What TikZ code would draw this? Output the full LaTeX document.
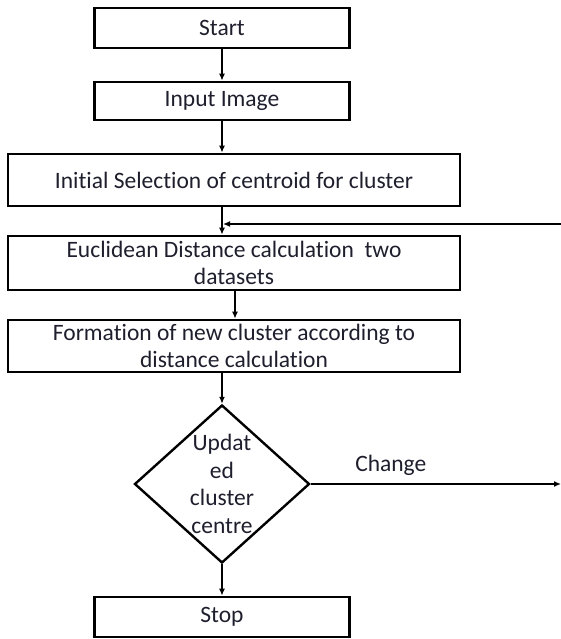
\documentclass[tikz,border=0pt]{standalone}
\usepackage{fontspec}
\setmainfont{Carlito}[Ligatures=NoCommon]
\usepackage{tikz}
\usetikzlibrary{arrows.meta,shapes.geometric,positioning,calc}
\definecolor{flowtext}{RGB}{30,30,45}

\tikzset{
  flowbox/.style={draw,line width=2.6pt,inner sep=0pt,font=\fontsize{23.5}{27.5}\selectfont,text=flowtext,align=center},
  flowarrow/.style={line width=1.8pt,-{Latex[length=7pt,width=6pt]}}
}

\begin{document}
\begin{tikzpicture}[x=1pt,y=-1pt]
  \useasboundingbox (0,0) rectangle (561,639);
  % process boxes
  \node[flowbox,minimum width=255pt,minimum height=40pt] (start) at (222,28) {Start};
  \node[flowbox,minimum width=255pt,minimum height=38pt] (input) at (222,101) {Input Image};
  \node[flowbox,minimum width=452pt,minimum height=52pt] (init) at (234,180) {Initial Selection of centroid for cluster};
  \node[flowbox,minimum width=452pt,minimum height=54pt] (euclid) at (234,263) {Euclidean Distance calculation\ \ two\\datasets};
  \node[flowbox,minimum width=452pt,minimum height=52pt] (form) at (234,346) {Formation of new cluster according to\\distance calculation};
  \node[flowbox,diamond,minimum width=175pt,minimum height=158pt,line width=2.4pt,
        label={[font=\fontsize{23.5}{27.5}\selectfont,text=flowtext,align=center]center:Updat\\ed\\cluster\\centre}] (update) at (222,484) {};
  \node[flowbox,minimum width=255pt,minimum height=40pt] (stop) at (222,617) {Stop};
  % loose ends at the right border
  \coordinate (back) at (561,224);
  \coordinate (change) at (561,484);
  % connectors
  \draw[flowarrow] (start.south -| input.north) -- (input.north);
  \draw[flowarrow] (input.south) -- (input.south |- init.north);
  \draw[flowarrow] (init.south -| input.south) -- (euclid.north -| input.south);
  \draw[flowarrow] (back) -- ([xshift=1pt]input.south |- back);
  \draw[flowarrow] ([xshift=13pt]euclid.south -| input.south) -- ([xshift=13pt]form.north -| input.south);
  \draw[flowarrow] (form.south -| update.north) -- (update.north);
  \draw[flowarrow] (update.east) -- node[pos=0.32,above=4pt,font=\fontsize{23.5}{27.5}\selectfont,text=flowtext] {Change} (change);
  \draw[flowarrow] (update.south) -- (stop.north);
\end{tikzpicture}
\end{document}
